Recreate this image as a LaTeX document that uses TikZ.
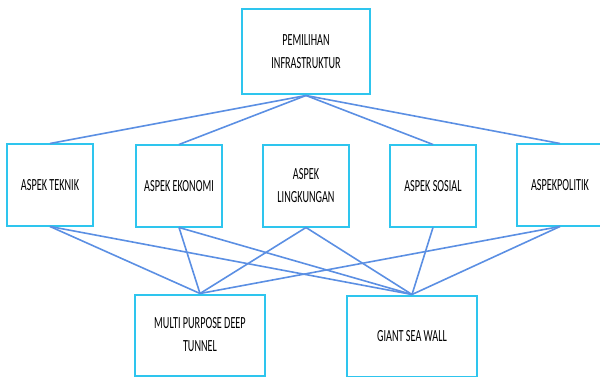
\documentclass[tikz,border=0pt]{standalone}
\usepackage{fontspec}
\setmainfont{Carlito}[FakeStretch=0.6]
\definecolor{kotakbiru}{HTML}{2EC5EE}
\definecolor{garisbiru}{HTML}{5B8FE3}
\tikzset{
  kotak/.style={draw=kotakbiru,line width=2pt,fill=white,align=center,
    inner sep=0pt,minimum width=86pt,minimum height=81pt},
  garis/.style={draw=garisbiru,line width=1.6pt}
}

\begin{document}
\begin{tikzpicture}[x=1pt,y=-1pt,font=\fontsize{17}{23}\selectfont]
        \useasboundingbox (0,0) rectangle (600,377);
        % tujuan
        \node[kotak,minimum width=128pt,minimum height=85pt] (pilih) at (306,52) {PEMILIHAN\\INFRASTRUKTUR};
        % kriteria
        \node[kotak] (teknik) at (50,185) {ASPEK TEKNIK};
        \node[kotak] (ekonomi) at (179,186) {ASPEK EKONOMI};
        \node[kotak] (lingkungan) at (306,186) {ASPEK\\LINGKUNGAN};
        \node[kotak] (sosial) at (433,186) {ASPEK SOSIAL};
        \node[kotak] (politik) at (560,185) {ASPEKPOLITIK};
        % alternatif
        \node[kotak,minimum width=130pt] (tunnel) at (200,335) {MULTI PURPOSE DEEP\\TUNNEL};
        \node[kotak,minimum width=130pt] (wall) at (412,336) {GIANT SEA WALL};
        \draw[garis] (pilih.south) to (teknik.north);
        \draw[garis] (pilih.south) to (ekonomi.north);
        \draw[garis] (pilih.south) to (sosial.north);
        \draw[garis] (pilih.south) to (politik.north);
        \draw[garis] (teknik.south) to (tunnel.north);
        \draw[garis] (teknik.south) to (wall.north);
        \draw[garis] (ekonomi.south) to (tunnel.north);
        \draw[garis] (ekonomi.south) to (wall.north);
        \draw[garis] (lingkungan.south) to (tunnel.north);
        \draw[garis] (lingkungan.south) to (wall.north);
        \draw[garis] (sosial.south) to (wall.north);
        \draw[garis] (politik.south) to (tunnel.north);
        \draw[garis] (politik.south) to (wall.north);
      \end{tikzpicture}
\end{document}
